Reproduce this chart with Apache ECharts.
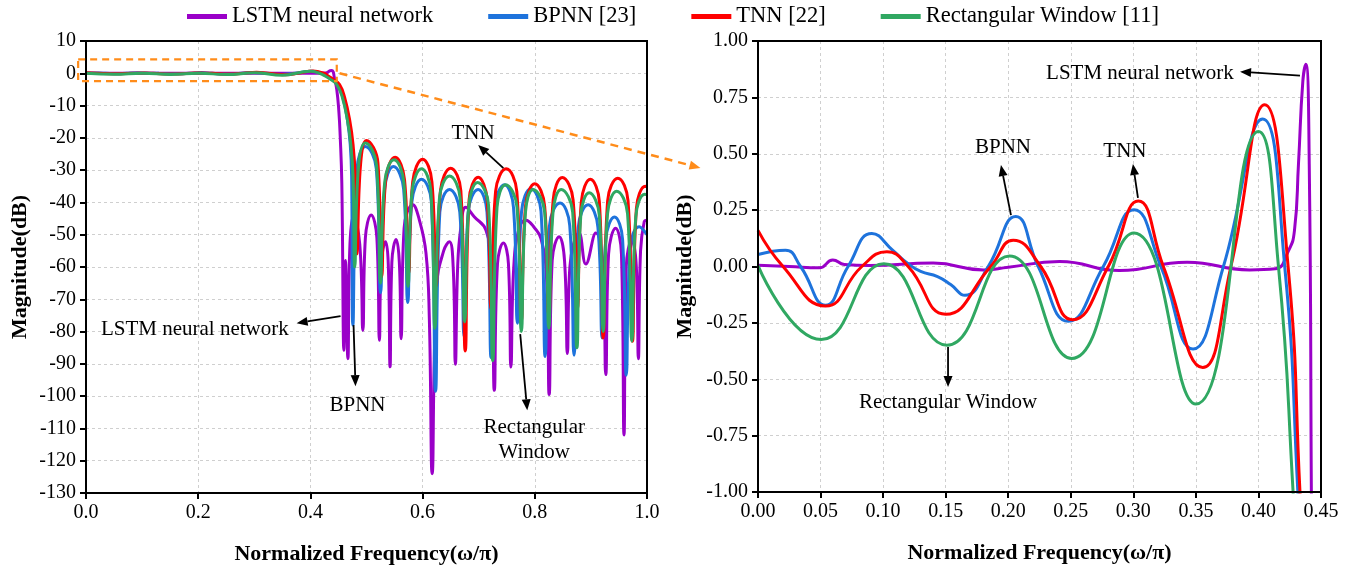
<!DOCTYPE html>
<html><head><meta charset="utf-8">
<script src="https://cdn.jsdelivr.net/npm/echarts@6/dist/echarts.min.js"></script>
<style>html,body{margin:0;padding:0;background:#fff}#c{width:1357px;height:571px}</style>
</head><body><div id="c"></div>
<script>
const seriesNames = ['LSTM neural network', 'BPNN [23]', 'TNN [22]', 'Rectangular Window [11]'];
const seriesColors = ['#9A00C8', '#1E73DC', '#FF0000', '#30A862'];
const axisTitleX = 'Normalized Frequency(\u03C9/\u03C0)';
const axisTitleY = 'Magnitude(dB)';

// passband + transition, [normalized frequency, dB]
const lstmPass = [[0,0.006],[0.025,0.0],[0.049,-0.006],[0.0598,0.029],[0.069,0.009],[0.089,0.004],[0.14,0.015],[0.18,-0.015],[0.2,-0.003],[0.241,0.022],[0.289,-0.018],[0.343,0.019],[0.393,-0.015],[0.4135,-0.01],[0.424,0.07],[0.4288,0.16],[0.432,0.455],[0.4355,0.823],[0.4379,0.897],[0.4406,0.455],[0.4423,-1.0],[0.447,-5],[0.4508,-12],[0.453,-19],[0.456,-34]];
const bpnnPass = [[0,0.053],[0.022,0.072],[0.034,0.0],[0.054,-0.172],[0.072,0.0],[0.091,0.146],[0.108,0.07],[0.12,0.012],[0.13,-0.022],[0.1435,-0.045],[0.154,-0.08],[0.1654,-0.128],[0.184,0.0],[0.206,0.222],[0.224,0.0],[0.248,-0.243],[0.276,0.0],[0.3005,0.252],[0.322,0.0],[0.3477,-0.366],[0.372,0.0],[0.4034,0.654],[0.421,0.0],[0.4315,-1.0],[0.438,-1.8],[0.449,-3.5],[0.458,-7.5],[0.466,-14.5],[0.471,-22],[0.4735,-32]];
const tnnPass = [[0,0.16],[0.02,0.0],[0.054,-0.175],[0.083,0.0],[0.103,0.065],[0.12,0.0],[0.150,-0.212],[0.186,0.0],[0.204,0.116],[0.226,0.0],[0.2515,-0.236],[0.28,0.0],[0.304,0.29],[0.324,0.0],[0.3555,-0.448],[0.378,0.0],[0.405,0.717],[0.4237,0.0],[0.4332,-1.0],[0.44,-1.8],[0.452,-3.5],[0.461,-7.5],[0.47,-14.5],[0.476,-22],[0.48,-32]];
const rectPass = [[0,0.004],[0.0506,-0.324],[0.1006,0.012],[0.151,-0.349],[0.201,0.047],[0.2508,-0.408],[0.3005,0.149],[0.35,-0.61],[0.40,0.599],[0.416,0.0],[0.4277,-1.0],[0.435,-1.8],[0.447,-3.5],[0.457,-7.5],[0.466,-14.5],[0.472,-22],[0.476,-32]];

// stopband, [normalized frequency, dB]
const lstmStop = [[0.4597,-85.8],[0.4625,-58],[0.4668,-88.4],[0.4705,-53],[0.477,-44.2],[0.488,-53],[0.4935,-79.6],[0.498,-51],[0.5083,-43.9],[0.5185,-51],[0.523,-82.7],[0.5262,-59],[0.534,-52.2],[0.5388,-59],[0.542,-90.9],[0.5452,-58.5],[0.5528,-51.5],[0.5585,-58.5],[0.5617,-82.2],[0.567,-48],[0.5826,-40.7],[0.594,-45.3],[0.606,-55.6],[0.612,-76],[0.617,-124],[0.625,-66],[0.6375,-55],[0.6477,-52.2],[0.6545,-60],[0.6584,-90.1],[0.6625,-60],[0.668,-48],[0.677,-41.5],[0.692,-44.4],[0.713,-48.6],[0.7225,-60],[0.7278,-98.2],[0.7335,-59],[0.744,-52.6],[0.753,-59],[0.7574,-91],[0.7625,-60],[0.772,-48],[0.784,-45.5],[0.8,-48],[0.811,-51.2],[0.8205,-62],[0.8256,-99.5],[0.831,-58],[0.8434,-50.6],[0.853,-58],[0.858,-86.8],[0.8625,-60],[0.879,-49.5],[0.891,-59.1],[0.9087,-49.5],[0.921,-60],[0.9265,-93.3],[0.9315,-56],[0.944,-48],[0.9545,-56],[0.959,-112],[0.963,-60],[0.9727,-51.7],[0.981,-60],[0.9846,-88.4],[0.9885,-55],[0.995,-46],[1.0,-45.5]];
const bpnnStop = [[0.4757,-78],[0.4831,-29.7],[0.498,-22.7],[0.5176,-29.7],[0.525,-68],[0.5323,-35.9],[0.548,-28.9],[0.5662,-35.9],[0.5735,-71],[0.5809,-39.8],[0.598,-32.8],[0.6156,-39.8],[0.623,-98.5],[0.6307,-43],[0.648,-36],[0.6663,-43],[0.674,-81.5],[0.6812,-43],[0.699,-36],[0.7148,-43],[0.722,-88],[0.729,-41.5],[0.746,-34.5],[0.762,-41.5],[0.769,-77.4],[0.7764,-42.8],[0.793,-35.8],[0.8111,-42.8],[0.8185,-87.7],[0.8262,-47.2],[0.845,-40.2],[0.8623,-47.2],[0.870,-87.3],[0.8775,-47.7],[0.895,-40.7],[0.9125,-47.7],[0.920,-82],[0.9265,-51.5],[0.942,-44.5],[0.9565,-51.5],[0.963,-93.5],[0.970,-54.5],[0.986,-47.5],[1.0,-50]];
const tnnStop = [[0.483,-56],[0.4896,-27.8],[0.500,-20.8],[0.5204,-27.8],[0.527,-63],[0.5342,-33],[0.551,-26],[0.5678,-33],[0.575,-62],[0.5824,-33.6],[0.600,-26.6],[0.6166,-33.6],[0.624,-66],[0.6318,-36.4],[0.650,-29.4],[0.6682,-36.4],[0.676,-86],[0.6829,-39.2],[0.699,-32.2],[0.7151,-39.2],[0.722,-73],[0.7301,-36.6],[0.749,-29.6],[0.7679,-36.6],[0.776,-77],[0.7834,-41.2],[0.800,-34.2],[0.8176,-41.2],[0.825,-75],[0.8327,-39.3],[0.849,-32.3],[0.8683,-39.3],[0.876,-73],[0.8829,-39.8],[0.899,-32.8],[0.9151,-39.8],[0.922,-82],[0.9298,-39.5],[0.948,-32.5],[0.9662,-39.5],[0.974,-83],[0.981,-42],[0.997,-35],[1.0,-35.2]];
const rectStop = [[0.479,-60],[0.4859,-28.6],[0.498,-21.6],[0.5181,-28.6],[0.525,-65],[0.5324,-33.8],[0.549,-26.8],[0.5666,-33.8],[0.574,-66],[0.5812,-36.6],[0.598,-29.6],[0.6148,-36.6],[0.622,-79],[0.630,-38.8],[0.648,-31.8],[0.667,-38.8],[0.675,-77],[0.6825,-40.8],[0.698,-33.8],[0.7175,-40.8],[0.725,-89],[0.7327,-41.5],[0.748,-34.5],[0.7683,-41.5],[0.776,-80],[0.7834,-43],[0.797,-36],[0.8176,-43],[0.825,-79],[0.8325,-43],[0.847,-36],[0.8675,-43],[0.875,-85],[0.882,-44],[0.897,-37],[0.915,-44],[0.922,-80],[0.9297,-43.5],[0.946,-36.5],[0.9653,-43.5],[0.973,-83],[0.98,-44.5],[0.996,-37.5],[1.0,-37.6]];

// annotations (data coordinates)
const leftNotes = [
  {text: 'TNN', at: [0.69, -18.5]},
  {text: 'LSTM neural network', at: [0.194, -79.3]},
  {text: 'BPNN', at: [0.484, -102.8]},
  {text: 'Rectangular\nWindow', at: [0.799, -113.7]}
];
const leftArrows = [
  [[0.744, -29.4], [0.699, -22.2]],
  [[0.4537, -75.2], [0.3754, -77.4]],
  [[0.4769, -78], [0.4804, -96.9]],
  [[0.774, -80.8], [0.7865, -104.4]]
];
const rightNotes = [
  {text: 'LSTM neural network', at: [0.3053, 0.858]},
  {text: 'BPNN', at: [0.1958, 0.53]},
  {text: 'TNN', at: [0.2933, 0.508]},
  {text: 'Rectangular Window', at: [0.1519, -0.605]}
];
const rightArrows = [
  [[0.4332, 0.846], [0.3853, 0.864]],
  [[0.2022, 0.228], [0.1942, 0.45]],
  [[0.3037, 0.304], [0.2997, 0.455]],
  [[0.1519, -0.357], [0.1519, -0.534]]
];
const zoomBox = [[-0.014, 4.3], [0.447, -2.4]];
const zoomLink = [[0.452, 0], [-0.046, 0.437]];

const FONT = 'Liberation Serif';
const passSets = [lstmPass, bpnnPass, tnnPass, rectPass];
const stopSets = [lstmStop, bpnnStop, tnnStop, rectStop];

function axisCommon(extra) {
  return Object.assign({
    type: 'value',
    axisLine: {show: true, onZero: false, lineStyle: {color: '#000', width: 2}},
    axisTick: {show: true, inside: false, length: 6, lineStyle: {color: '#000', width: 2}},
    axisLabel: {color: '#000', fontSize: 20, fontFamily: FONT, margin: 10},
    splitLine: {show: true, lineStyle: {type: [3, 3], color: '#cfcfcf', width: 1}},
    nameLocation: 'middle',
    nameTextStyle: {color: '#000', fontSize: 22, fontWeight: 'bold', fontFamily: FONT}
  }, extra);
}

const series = [];
for (let i = 0; i < 4; i++) {
  series.push({
    name: seriesNames[i], type: 'line', xAxisIndex: 0, yAxisIndex: 0,
    data: passSets[i].concat(stopSets[i]), showSymbol: false, symbol: 'none',
    smooth: 0.45, color: seriesColors[i], lineStyle: {width: 3, color: seriesColors[i]}, clip: true
  });
}
for (let i = 0; i < 4; i++) {
  series.push({
    name: seriesNames[i], type: 'line', xAxisIndex: 1, yAxisIndex: 1,
    data: passSets[i], showSymbol: false, symbol: 'none',
    smooth: 0.5, color: seriesColors[i], lineStyle: {width: 3, color: seriesColors[i]}, clip: true
  });
}

const chart = echarts.init(document.getElementById('c'), null, {renderer: 'canvas'});
chart.setOption({
  animation: false,
  backgroundColor: '#fff',
  legend: {
    data: seriesNames, top: 0, left: 182, itemWidth: 40, itemHeight: 5, itemGap: 55,
    icon: 'rect', selectedMode: false,
    textStyle: {fontSize: 22.5, fontFamily: FONT, color: '#000'}
  },
  grid: [
    {left: 86, right: 710, top: 41, bottom: 78},
    {left: 758, right: 36, top: 41, bottom: 79}
  ],
  xAxis: [
    axisCommon({gridIndex: 0, min: 0, max: 1, interval: 0.2, name: axisTitleX, nameGap: 50,
      axisLabel: {color: '#000', fontSize: 20, fontFamily: FONT, margin: 10, formatter: v => v.toFixed(1)}}),
    axisCommon({gridIndex: 1, min: 0, max: 0.45, interval: 0.05, name: axisTitleX, nameGap: 50,
      axisLabel: {color: '#000', fontSize: 20, fontFamily: FONT, margin: 10, formatter: v => v.toFixed(2)}})
  ],
  yAxis: [
    axisCommon({gridIndex: 0, min: -130, max: 10, interval: 10, name: axisTitleY, nameGap: 55}),
    axisCommon({gridIndex: 1, min: -1, max: 1, interval: 0.25, name: axisTitleY, nameGap: 62,
      axisLabel: {color: '#000', fontSize: 20, fontFamily: FONT, margin: 10, formatter: v => v.toFixed(2)}})
  ],
  series: series
});

function P(g, pt) { return chart.convertToPixel({gridIndex: g}, pt); }
function arrow(a, b, color, dashed) {
  const dx = b[0] - a[0], dy = b[1] - a[1];
  const len = Math.sqrt(dx * dx + dy * dy);
  const ux = dx / len, uy = dy / len;
  const L = 11, W = 4.5;
  const bx = b[0] - ux * L, by = b[1] - uy * L;
  const els = [];
  els.push({type: 'line', z: 100, shape: {x1: a[0], y1: a[1], x2: bx, y2: by},
    style: {stroke: color, lineWidth: dashed ? 2.5 : 1.8, lineDash: dashed ? [8, 6] : null}});
  els.push({type: 'polygon', z: 100, shape: {points: [[b[0], b[1]], [bx - uy * W, by + ux * W], [bx + uy * W, by - ux * W]]},
    style: {fill: color}});
  return els;
}
const g = [];
// plot frames
[[0, [0, 10], [1, -130]], [1, [0, 1], [0.45, -1]]].forEach(f => {
  const a = P(f[0], f[1]), b = P(f[0], f[2]);
  g.push({type: 'rect', z: 90, shape: {x: a[0], y: a[1], width: b[0] - a[0], height: b[1] - a[1]},
    style: {fill: 'none', stroke: '#000', lineWidth: 2}});
});
function addNotes(gi, notes, arrows) {
  notes.forEach(n => {
    const p = P(gi, n.at);
    g.push({type: 'text', z: 100, x: p[0], y: p[1],
      style: {text: n.text, fill: '#000', fontSize: 21, fontFamily: FONT, align: 'center', verticalAlign: 'middle', lineHeight: 25}});
  });
  arrows.forEach(ar => { arrow(P(gi, ar[0]), P(gi, ar[1]), '#000', false).forEach(e => g.push(e)); });
}
addNotes(0, leftNotes, leftArrows);
addNotes(1, rightNotes, rightArrows);
const c1 = P(0, zoomBox[0]), c2 = P(0, zoomBox[1]);
g.push({type: 'rect', z: 100, shape: {x: c1[0], y: c1[1], width: c2[0] - c1[0], height: c2[1] - c1[1]},
  style: {fill: 'none', stroke: '#FF8C1A', lineWidth: 2.2, lineDash: [7, 5]}});
arrow(P(0, zoomLink[0]), P(1, zoomLink[1]), '#FF8C1A', true).forEach(e => g.push(e));
chart.setOption({graphic: g});
</script></body></html>
